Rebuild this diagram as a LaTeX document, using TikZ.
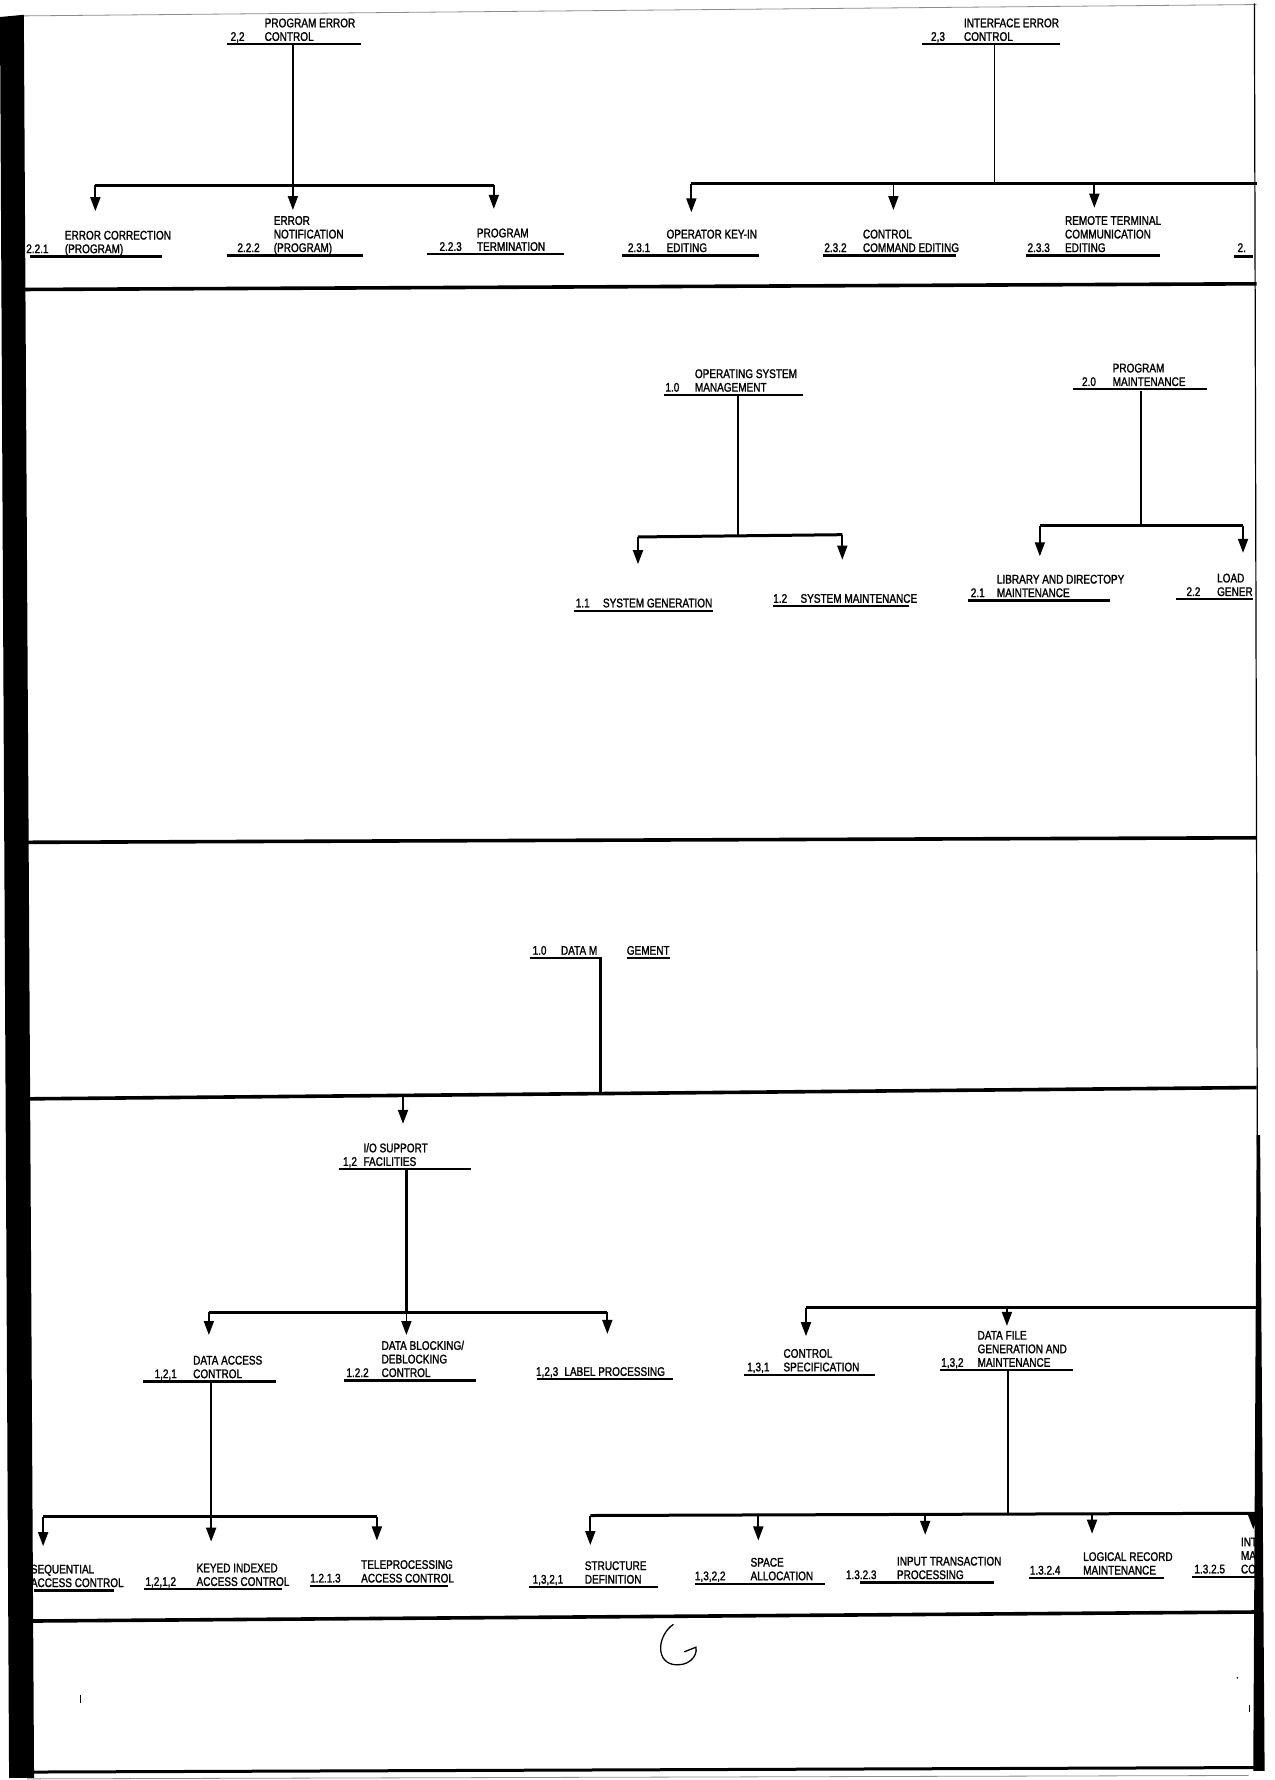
\documentclass[tikz,border=0pt]{standalone}
\usepackage{fontspec}
\newfontfamily\lblfamily{Liberation Sans}[FakeStretch=0.8,FakeBold=1.5]
\usetikzlibrary{arrows.meta}
\newcommand\lf{\lblfamily\fontsize{12.5pt}{13.6pt}\selectfont}
\newcommand\lab[8]{%
  \node[numtxt] (#1n) at (#2,#4-3) {#5};
  \node[ttltxt] (#1) at (#3,#4-3) {\begin{tabular}[b]{@{}l@{}}#6\end{tabular}};
  \draw[uline] (#7,#4) -- (#8,#4);}
\tikzset{
 numtxt/.style={font=\lf, inner sep=0pt, anchor=base west},
 ttltxt/.style={font=\lf, inner sep=0pt, anchor=base west},
 uline/.style={line width=2.2pt},
 stem/.style={line width=1.5pt},
 stemb/.style={line width=2.4pt},
 bar/.style={line width=3pt},
 arr/.style={line width=1.8pt, -{Triangle[width=10pt,length=14pt]}},
 divider/.style={line width=3.6pt},
}
\begin{document}
\begin{tikzpicture}[x=1.1353pt,y=-1.1353pt]
\fill[white] (0,0) rectangle (1123,1568);
\useasboundingbox (0,0) rectangle (1123,1568);

% ---------------- panel 1 ----------------
\lab{n22}{203}{233}{39}{2,2}{PROGRAM ERROR\\CONTROL}{200}{318}
\lab{n221}{23}{57}{226}{2.2.1}{ERROR CORRECTION\\(PROGRAM)}{26}{143}
\lab{n222}{209}{241}{225}{2.2.2}{ERROR\\NOTIFICATION\\(PROGRAM)}{200}{320}
\lab{n223}{387}{420}{224}{2.2.3}{PROGRAM\\TERMINATION}{376}{497}
\coordinate (s22) at (258,40);
\coordinate (j22) at (258,163);
\coordinate (b221) at (84,163);
\coordinate (b223) at (435,163);
\coordinate (t221) at (84,186);
\coordinate (t222) at (258,185);
\coordinate (t223) at (435,184);
\draw[stem] (s22) -- (j22);
\draw[bar] (b221) -- (b223);
\draw[arr] (b221) -- (t221);
\draw[arr] (j22) -- (t222);
\draw[arr] (b223) -- (t223);

\lab{n23}{820}{849}{39}{2,3}{INTERFACE ERROR\\CONTROL}{812}{934}
\lab{n231}{553}{587}{225}{2.3.1}{OPERATOR KEY-IN\\EDITING}{548}{669}
\lab{n232}{726}{760}{225}{2.3.2}{CONTROL\\COMMAND EDITING}{725}{842}
\lab{n233}{905}{938}{225}{2.3.3}{REMOTE TERMINAL\\COMMUNICATION\\EDITING}{904}{1022}
\node[numtxt] (n234) at (1090,222) {2.};
\draw[uline] (1087,226) -- (1104,226);
\coordinate (s23) at (876,40);
\coordinate (j23) at (876,162);
\coordinate (b231) at (609,162);
\coordinate (b232) at (787,162);
\coordinate (b233) at (964,162);
\coordinate (b23e) at (1107,162);
\coordinate (t231) at (609,187);
\coordinate (t232) at (787,185);
\coordinate (t233) at (964,183);
\draw[stem] (s23) -- (j23);
\draw[bar] (b231) -- (b23e);
\draw[arr] (b231) -- (t231);
\draw[arr] (b232) -- (t232);
\draw[arr] (b233) -- (t233);

\draw[divider] (21,255) -- (1107,250);

% ---------------- panel 2 ----------------
\lab{n10}{586}{612}{348}{1.0}{OPERATING SYSTEM\\MANAGEMENT}{585}{707}
\lab{n11}{507}{531}{538}{1.1}{SYSTEM GENERATION}{506}{628}
\lab{n12}{681}{705}{534}{1.2}{SYSTEM MAINTENANCE}{681}{801}
\coordinate (s10) at (650,349);
\coordinate (j10) at (650,472);
\coordinate (b11) at (562,473);
\coordinate (b12) at (742,471);
\coordinate (t11) at (562,497);
\coordinate (t12) at (742,493);
\draw[stem] (s10) -- (j10);
\draw[bar] (b11) -- (b12);
\draw[arr] (b11) -- (t11);
\draw[arr] (b12) -- (t12);

\lab{n20}{953}{980}{343}{2.0}{PROGRAM\\MAINTENANCE}{945}{1063}
\lab{n21}{855}{878}{529}{2.1}{LIBRARY AND DIRECTOPY\\MAINTENANCE}{853}{978}
\lab{n22b}{1045}{1072}{528}{2.2}{LOAD\\GENER}{1036}{1104}
\coordinate (s20) at (1005,344);
\coordinate (j20) at (1005,463);
\coordinate (b21) at (916,463);
\coordinate (b22b) at (1095,463);
\coordinate (t21) at (916,490);
\coordinate (t22b) at (1095,487);
\draw[stem] (s20) -- (j20);
\draw[bar] (b21) -- (b22b);
\draw[arr] (b21) -- (t21);
\draw[arr] (b22b) -- (t22b);

\draw[divider] (21,742) -- (1107,738);

% ---------------- panel 3 ----------------
\node[numtxt] (d10n) at (469,841) {1.0};
\node[ttltxt] (d10a) at (494,841) {DATA M};
\node[ttltxt] (d10b) at (552,841) {GEMENT};
\draw[uline] (467,844) -- (530,844);
\draw[uline] (552,844) -- (590,844);
\coordinate (sd10) at (529,845);
\coordinate (jd10) at (529,963.3);
\coordinate (bio) at (355,964.9);
\coordinate (tio) at (355,990);
\draw[stemb] (sd10) -- (jd10);
\draw[divider] (21,968) -- (1107,958);
\draw[arr] (bio) -- (tio);

% ---------------- panel 4 ----------------
\lab{nio}{302}{320}{1030}{1,2}{I/O SUPPORT\\FACILITIES}{299}{415}
\lab{n121}{136}{170}{1217}{1,2,1}{DATA ACCESS\\CONTROL}{126}{243}
\lab{n122}{305}{336}{1216}{1.2.2}{DATA BLOCKING/\\DEBLOCKING\\CONTROL}{303}{419}
\lab{n123}{472}{497}{1215}{1,2,3}{LABEL PROCESSING}{473}{593}
\coordinate (sio) at (358,1031);
\coordinate (jio) at (358,1156);
\coordinate (b121) at (184,1156);
\coordinate (b123) at (535,1156);
\coordinate (t121) at (184,1176);
\coordinate (t122) at (358,1176);
\coordinate (t123) at (535,1175);
\draw[stemb] (sio) -- (jio);
\draw[bar] (b121) -- (b123);
\draw[arr] (b121) -- (t121);
\draw[arr] (jio) -- (t122);
\draw[arr] (b123) -- (t123);

\node[ttltxt] (n1211) at (27,1398) {\begin{tabular}[b]{@{}l@{}}SEQUENTIAL\\ACCESS CONTROL\end{tabular}};
\draw[uline] (30,1401) -- (100,1401);
\lab{n1212}{128}{173}{1400}{1,2,1,2}{KEYED INDEXED\\ACCESS CONTROL}{127}{248}
\lab{n1213}{273}{318}{1397}{1.2.1.3}{TELEPROCESSING\\ACCESS CONTROL}{273}{395}
\coordinate (s121) at (186,1218);
\coordinate (j121) at (186,1336);
\coordinate (b1211) at (38,1336);
\coordinate (b1213) at (332,1336);
\coordinate (t1211) at (38,1362);
\coordinate (t1212) at (186,1358);
\coordinate (t1213) at (332,1357);
\draw[stemb] (s121) -- (j121);
\draw[bar] (b1211) -- (b1213);
\draw[arr] (b1211) -- (t1211);
\draw[arr] (j121) -- (t1212);
\draw[arr] (b1213) -- (t1213);

\lab{n131}{658}{690}{1211}{1,3,1}{CONTROL\\SPECIFICATION}{655}{771}
\lab{n132}{829}{861}{1207}{1,3,2}{DATA FILE\\GENERATION AND\\MAINTENANCE}{828}{945}
\coordinate (b131) at (710,1152);
\coordinate (b132) at (887,1152);
\coordinate (b13e) at (1107,1152);
\coordinate (t131) at (710,1177);
\coordinate (t132) at (887,1168);
\draw[bar] (b131) -- (b13e);
\draw[arr] (b131) -- (t131);
\draw[arr] (b132) -- (t132);

\lab{n1321}{469}{515}{1398}{1,3,2,1}{STRUCTURE\\DEFINITION}{466}{580}
\lab{n1322}{612}{661}{1395}{1,3,2,2}{SPACE\\ALLOCATION}{612}{727}
\lab{n1323}{745}{790}{1394}{1.3.2.3}{INPUT TRANSACTION\\PROCESSING}{758}{876}
\lab{n1324}{907}{954}{1390}{1.3.2.4}{LOGICAL RECORD\\MAINTENANCE}{906}{1025}
\lab{n1325}{1052}{1093}{1389}{1.3.2.5}{INT\\MAI\\CON}{1050}{1107}
\coordinate (s132) at (888,1208);
\coordinate (j132) at (888,1334);
\coordinate (b1321) at (520,1335);
\coordinate (b1322) at (668,1335);
\coordinate (b1323) at (815,1334);
\coordinate (b1324) at (962,1333);
\coordinate (b1325) at (1104,1333);
\coordinate (b132e) at (1107,1333);
\coordinate (t1321) at (520,1361);
\coordinate (t1322) at (668,1357);
\coordinate (t1323) at (815,1352);
\coordinate (t1324) at (962,1351);
\coordinate (t1325) at (1104,1347);
\draw[stemb] (s132) -- (j132);
\draw[bar] (b1321) -- (b132e);
\draw[arr] (b1321) -- (t1321);
\draw[arr] (b1322) -- (t1322);
\draw[arr] (b1323) -- (t1323);
\draw[arr] (b1324) -- (t1324);
\draw[arr] (b1325) -- (t1325);

\draw[divider] (21,1428) -- (1107,1420);

% ---------------- bottom panel ----------------
\draw[line width=1.3pt, line cap=round] (593,1431) .. controls (580,1440) and (577,1462) .. (592,1466) .. controls (606,1469) and (615,1459) .. (613,1451) -- (603,1455);
\draw[line width=1pt] (71,1493) -- (71,1500);
\draw[line width=1pt] (1101,1502) -- (1101,1508);
\fill (1090,1478) circle (0.8);

% ---------------- frame ----------------
\draw[line width=0.8pt, black!45] (21,14) -- (1107,4);
\draw[line width=1.2pt] (1105,3) -- (1109,1560);
\fill (1107,1000) -- (1110,1000) -- (1114,1560) -- (1104,1560) -- cycle;
\draw[line width=3pt] (24,1561) -- (1112,1557);
\draw[line width=0.8pt, black!45] (24,1567) -- (1100,1564);
\fill (0,15) -- (21,13) -- (30,1566) -- (8,1566) -- cycle;
\end{tikzpicture}
\end{document}
